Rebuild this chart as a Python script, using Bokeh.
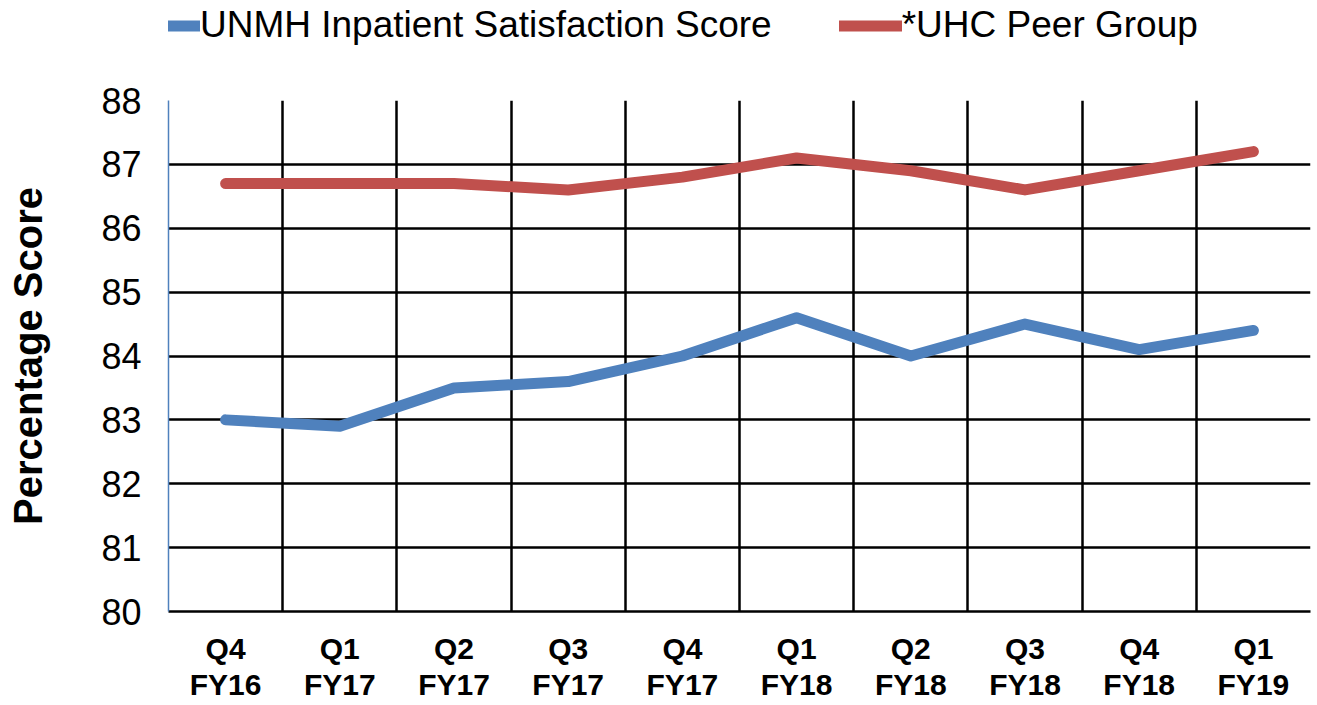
from bokeh.plotting import figure
from bokeh.layouts import column
from bokeh.models import FactorRange, Range1d, FixedTicker, Legend, LegendItem
from bokeh.embed import file_html
from bokeh.resources import INLINE

categories = ["Q4\nFY16", "Q1\nFY17", "Q2\nFY17", "Q3\nFY17", "Q4\nFY17",
              "Q1\nFY18", "Q2\nFY18", "Q3\nFY18", "Q4\nFY18", "Q1\nFY19"]
unmh = [83.0, 82.9, 83.5, 83.6, 84.0, 84.6, 84.0, 84.5, 84.1, 84.4]
uhc = [86.7, 86.7, 86.7, 86.6, 86.8, 87.1, 86.9, 86.6, 86.9, 87.2]
series_names = ["UNMH Inpatient Satisfaction Score", "*UHC Peer Group"]
series_colors = ["#4F81BD", "#C0504D"]
y_ticks = [80, 81, 82, 83, 84, 85, 86, 87, 88]

FONT = "Liberation Sans"
W = 1312
LEG_H = 50

p = figure(width=W, height=703 - LEG_H, x_range=FactorRange(factors=categories),
           y_range=Range1d(80, 88), output_backend="svg", toolbar_location=None,
           min_border_left=168, min_border_right=2, min_border_top=100 - LEG_H,
           min_border_bottom=90)
p.outline_line_color = None
p.background_fill_color = "white"
p.border_fill_color = "white"

for vals, col in zip([unmh, uhc], series_colors):
    p.line(categories, vals, line_color=col, line_width=11,
           line_cap="round", line_join="round")

# y axis
p.yaxis.ticker = FixedTicker(ticks=y_ticks)
p.yaxis.axis_line_color = "#4F81BD"
p.yaxis.axis_line_width = 1.5
p.yaxis.major_tick_line_color = None
p.yaxis.minor_tick_line_color = None
p.yaxis.major_tick_out = 0
p.yaxis.major_tick_in = 0
p.yaxis.major_label_standoff = 27
p.yaxis.major_label_text_font = FONT
p.yaxis.major_label_text_font_size = "36px"
p.yaxis.major_label_text_color = "black"
p.yaxis.axis_label = "Percentage Score"
p.yaxis.axis_label_text_font = FONT
p.yaxis.axis_label_text_font_size = "40px"
p.yaxis.axis_label_text_font_style = "bold"
p.yaxis.axis_label_text_color = "black"
p.yaxis.axis_label_standoff = 48

# x axis
p.xaxis.axis_line_color = "black"
p.xaxis.axis_line_width = 2.5
p.xaxis.major_tick_line_color = None
p.xaxis.minor_tick_line_color = None
p.xaxis.major_tick_out = 0
p.xaxis.major_tick_in = 0
p.xaxis.major_label_standoff = 20
p.xaxis.major_label_text_font = FONT
p.xaxis.major_label_text_font_size = "30px"
p.xaxis.major_label_text_font_style = "bold"
p.xaxis.major_label_text_color = "black"
p.xaxis.major_label_text_line_height = 1.1
p.xaxis.major_label_orientation = "horizontal"

# grids
p.ygrid.ticker = FixedTicker(ticks=y_ticks[1:])
p.ygrid.grid_line_color = "black"
p.ygrid.grid_line_width = 2.5
p.xgrid.ticker = FixedTicker(ticks=list(range(1, len(categories) + 1)))
p.xgrid.grid_line_color = "black"
p.xgrid.grid_line_width = 2.5

# legend strip on top (series lie outside its y range, so only the legend shows)
lf = figure(width=W, height=LEG_H, x_range=FactorRange(factors=categories),
            y_range=Range1d(0, 1), output_backend="svg", toolbar_location=None,
            min_border=0, min_border_left=0, min_border_right=0,
            min_border_top=0, min_border_bottom=0)
lf.axis.visible = False
lf.grid.visible = False
lf.outline_line_color = None
lf.background_fill_color = "white"
lf.border_fill_color = "white"
items = []
for name, vals, col in zip(series_names, [unmh, uhc], series_colors):
    r = lf.line(categories, vals, line_color=col, line_width=11,
                line_cap="round", line_join="round")
    items.append(LegendItem(label=name, renderers=[r]))
legend = Legend(items=items, orientation="horizontal", location=(-31, 4),
                label_text_font=FONT, label_text_font_size="37px",
                label_text_color="black", label_standoff=0,
                glyph_width=63, glyph_height=37, spacing=67, padding=0,
                margin=0, border_line_color=None, background_fill_alpha=0)
lf.add_layout(legend)

layout = column(lf, p, spacing=0)
open("out.html", "w").write(file_html(layout, INLINE))
